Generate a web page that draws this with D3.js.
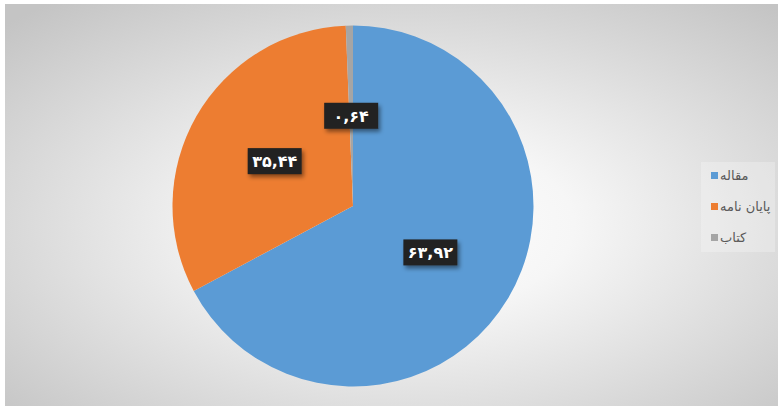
<!DOCTYPE html>
<html>
<head>
<meta charset="utf-8">
<script src="https://cdn.jsdelivr.net/npm/d3@7"></script>
<style>
body { margin:0; background:#ffffff; }
</style>
</head>
<body>
<div id="chart"></div>
<script>
var width = 778,
height = 408;

// slices clockwise from 12 o'clock (sizes)
var categories = ["مقاله", "پایان نامه", "کتاب"];
var values = [67.2, 32.16, 0.64];
var labels = ["۶۳,۹۲", "۳۵,۴۴", "۰,۶۴"];
var colors = ["#5B9BD5", "#ED7D31", "#A5A5A5"];

var svg = d3.select("#chart").append("svg")
	.attr("width", width)
	.attr("height", height);

var defs = svg.append("defs");
var grad = defs.append("radialGradient")
	.attr("id", "bg")
	.attr("cx", 0.52).attr("cy", 0.55).attr("r", 0.72);
grad.append("stop").attr("offset", "0%").attr("stop-color", "#ffffff");
grad.append("stop").attr("offset", "30%").attr("stop-color", "#f6f6f6");
grad.append("stop").attr("offset", "100%").attr("stop-color", "#c4c4c4");

var shadow = defs.append("filter")
	.attr("id", "shad")
	.attr("x", "-20%").attr("y", "-30%")
	.attr("width", "150%").attr("height", "170%");
shadow.append("feDropShadow")
	.attr("dx", 2).attr("dy", 3)
	.attr("stdDeviation", 2)
	.attr("flood-color", "#000")
	.attr("flood-opacity", 0.45);

svg.append("rect")
	.attr("x", 5).attr("y", 4)
	.attr("width", 773).attr("height", 402)
	.attr("fill", "url(#bg)");

var cx = 353, cy = 206, r = 180.5;

var pie = d3.pie().sort(null).value(function(d){ return d; });
var arc = d3.arc().innerRadius(0).outerRadius(r);
var labelArc = d3.arc().innerRadius(r * 0.5).outerRadius(r * 0.5);

var g = svg.append("g").attr("transform", "translate(" + cx + "," + cy + ")");
var arcs = pie(values);

g.selectAll("path")
	.data(arcs)
	.enter().append("path")
	.attr("d", arc)
	.attr("fill", function(d, i){ return colors[i]; });

var lab = g.selectAll(".lab")
	.data(arcs)
	.enter().append("g")
	.attr("class", "lab")
	.attr("transform", function(d){
		var c = labelArc.centroid(d);
		return "translate(" + c[0] + "," + c[1] + ")";
	});

lab.append("rect")
	.attr("x", -27).attr("y", -13)
	.attr("width", 54).attr("height", 26)
	.attr("fill", "#222222")
	.attr("filter", "url(#shad)");

lab.append("text")
	.attr("text-anchor", "middle")
	.attr("dy", "0.36em")
	.attr("fill", "#ffffff")
	.attr("font-family", "DejaVu Sans")
	.attr("font-weight", "bold")
	.attr("font-size", 16)
	.text(function(d, i){ return labels[i]; });

// legend
var leg = svg.append("g");
leg.append("rect")
	.attr("x", 701).attr("y", 162)
	.attr("width", 74).attr("height", 90)
	.attr("fill", "#ffffff").attr("opacity", 0.25);

var legY = d3.scalePoint().domain(categories).range([175.5, 237.5]);

var item = leg.selectAll(".item")
	.data(categories)
	.enter().append("g")
	.attr("class", "item");

item.append("rect")
	.attr("x", 711)
	.attr("y", function(d){ return legY(d) - 3.5; })
	.attr("width", 7).attr("height", 7)
	.attr("fill", function(d, i){ return colors[i]; });

item.append("text")
	.attr("x", 720)
	.attr("y", function(d){ return legY(d); })
	.attr("dy", "0.35em")
	.attr("fill", "#595959")
	.attr("font-family", "DejaVu Sans")
	.attr("font-size", 13)
	.text(function(d){ return d; });
</script>
</body>
</html>
